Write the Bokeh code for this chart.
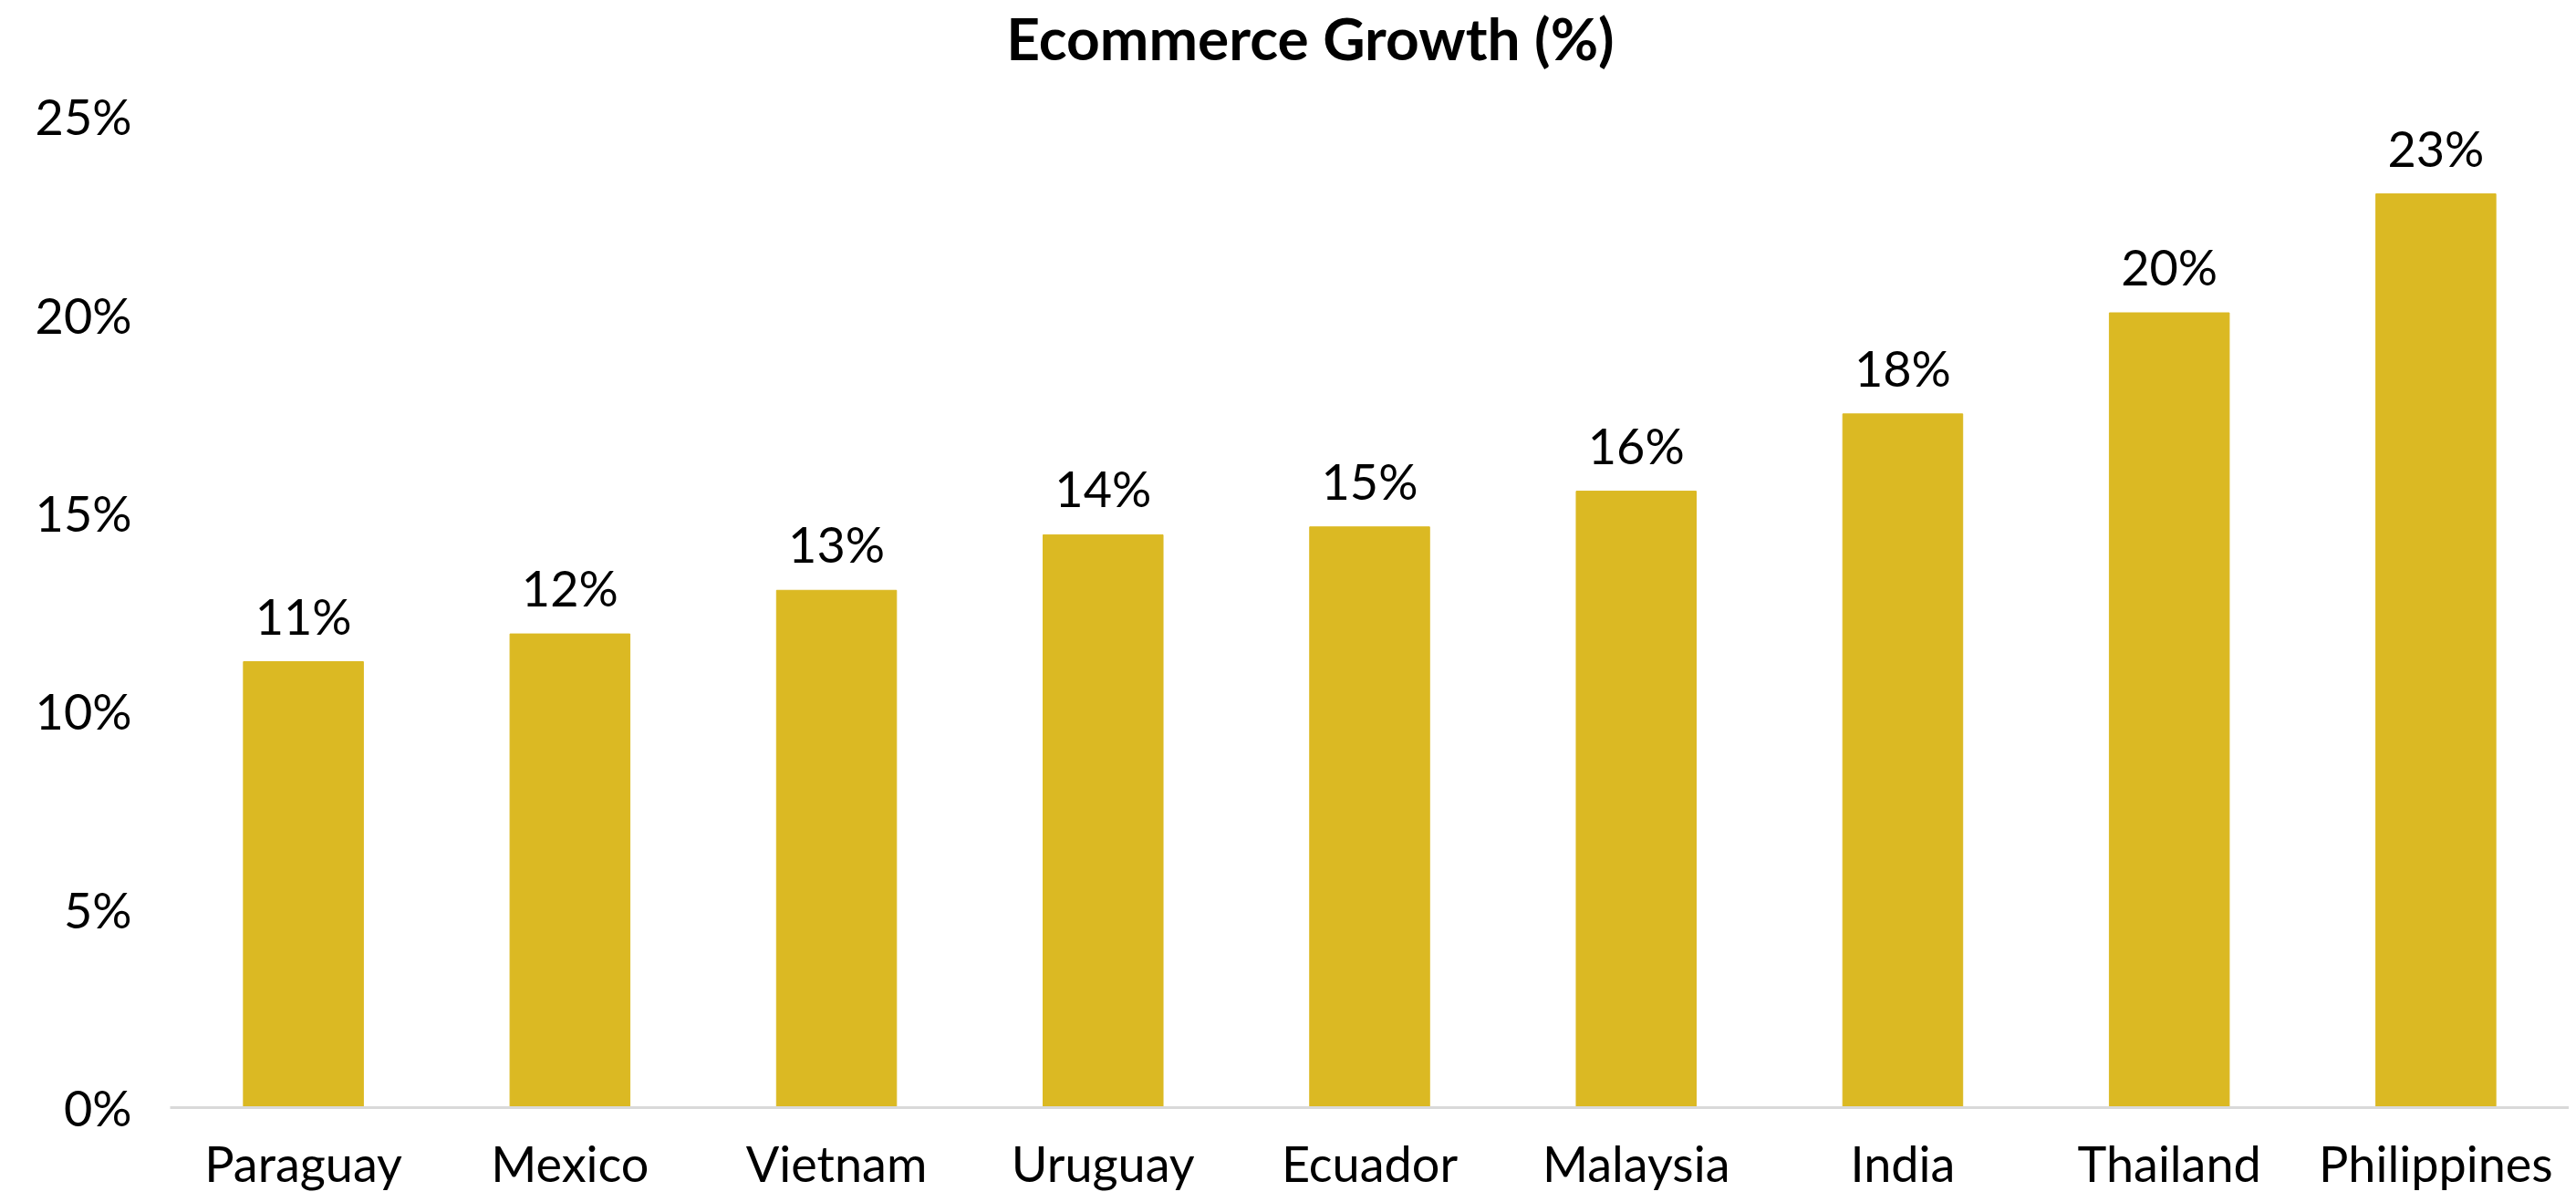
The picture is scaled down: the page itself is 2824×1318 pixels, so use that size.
from bokeh.plotting import figure
from bokeh.models import ColumnDataSource, FixedTicker, Label
from bokeh.core.properties import value
from bokeh.embed import file_html
from bokeh.resources import INLINE

countries = ["Paraguay", "Mexico", "Vietnam", "Uruguay", "Ecuador", "Malaysia", "India", "Thailand", "Philippines"]
growth = [11.25, 11.95, 13.05, 14.45, 14.65, 15.55, 17.5, 20.05, 23.05]
labels = ["11%", "12%", "13%", "14%", "15%", "16%", "18%", "20%", "23%"]
y_ticks = [0, 5, 10, 15, 20, 25]
y_tick_labels = ["0%", "5%", "10%", "15%", "20%", "25%"]
title_text = "Ecommerce Growth (%)"

FONT = "Lato"
GOLD = "#DBB923"

src = ColumnDataSource(dict(country=countries, growth=growth, label=labels))

# frame runs to the top of the figure so the title can sit inside it, above the 25% line
p = figure(x_range=countries, y_range=(0, 27.93), width=2816, height=1310,
           output_backend="svg", toolbar_location=None,
           min_border_left=186, min_border_right=0, min_border_top=0, min_border_bottom=0)

title = Label(x=1250, y=25, x_units="screen", y_units="data", y_offset=86,
              text=title_text, text_align="center", text_baseline="middle",
              text_font=FONT, text_font_size="64px", text_font_style="bold",
              text_color="#000000")
p.add_layout(title)

p.vbar(x="country", top="growth", width=0.45, source=src, color=GOLD, line_color=GOLD)
p.text(x="country", y="growth", text="label", source=src, text_align="center",
       text_baseline="bottom", y_offset=-18, text_font=value(FONT),
       text_font_size="54px", text_color="#000000")

p.xgrid.visible = False
p.ygrid.visible = False
p.outline_line_color = None
p.background_fill_color = "white"
p.border_fill_color = "white"

p.yaxis.ticker = FixedTicker(ticks=y_ticks)
p.yaxis.major_label_overrides = {t: l for t, l in zip(y_ticks, y_tick_labels)}
p.yaxis.axis_line_color = None
p.yaxis.major_tick_line_color = None
p.yaxis.minor_tick_line_color = None
p.yaxis.major_tick_out = 0
p.yaxis.major_tick_in = 0
p.yaxis.major_label_standoff = 42
p.yaxis.major_label_text_font = FONT
p.yaxis.major_label_text_font_size = "54px"
p.yaxis.major_label_text_color = "#000000"

p.xaxis.axis_line_color = "#D9D9D9"
p.xaxis.axis_line_width = 3
p.xaxis.major_tick_line_color = None
p.xaxis.minor_tick_line_color = None
p.xaxis.major_tick_out = 0
p.xaxis.major_tick_in = 0
p.xaxis.major_label_standoff = 28
p.xaxis.major_label_text_font = FONT
p.xaxis.major_label_text_font_size = "54px"
p.xaxis.major_label_text_color = "#000000"

open("out.html", "w").write(file_html(p, INLINE))
